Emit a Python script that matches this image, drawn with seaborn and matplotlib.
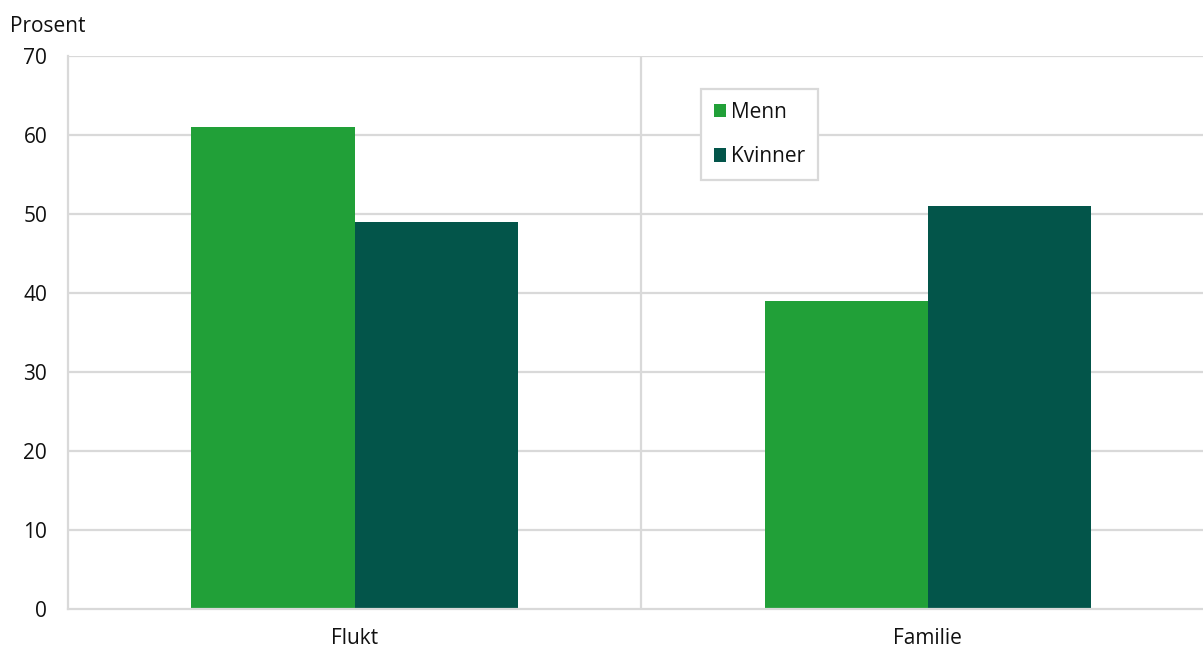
import pandas as pd
import matplotlib.pyplot as plt
import seaborn as sns

# dados
kategorier = ['Flukt', 'Familie']
menn = [61, 39]
kvinner = [49, 51]
yticks = [0, 10, 20, 30, 40, 50, 60, 70]

df = pd.DataFrame({
    'kategori': kategorier * 2,
    'verdi': menn + kvinner,
    'kjonn': ['Menn'] * len(menn) + ['Kvinner'] * len(kvinner),
})

sns.set_style('white')
plt.rcParams['font.family'] = ['Open Sans', 'DejaVu Sans']

W, H = 1203, 648
fig = plt.figure(figsize=(W / 100, H / 100), dpi=100)
ax = fig.add_axes([68 / W, 1 - 609 / H, (W - 68) / W, (609 - 56) / H])

grid_col = '#d9d9d9'
txt_col = '#111111'
sns.barplot(df, x='kategori', y='verdi', hue='kjonn',
            palette=['#21a038', '#03554a'], width=0.57,
            saturation=1, linewidth=0, ax=ax, zorder=3)

ax.set_ylim(0, 70)
ax.set_xlim(-0.5, (W - 355) / 573)
ax.set_yticks(yticks)
for y in yticks[1:]:
    ax.axhline(y, color=grid_col, lw=1.6, zorder=1)
ax.axvline(0.5, color=grid_col, lw=1.6, zorder=1)

for s in ['top', 'right']:
    ax.spines[s].set_visible(False)
for s in ['left', 'bottom']:
    ax.spines[s].set_color(grid_col)
    ax.spines[s].set_linewidth(1.6)
    ax.spines[s].set_zorder(4)

ax.tick_params(axis='y', length=0, pad=15, labelsize=15, colors=txt_col)
ax.tick_params(axis='x', length=0, pad=14, labelsize=15, colors=txt_col)
ax.set_xlabel('')
ax.set_ylabel('')

fig.text(10 / W, 1 - 27 / H, 'Prosent', fontsize=15, color=txt_col, va='center', ha='left')

leg = ax.legend(loc='upper left', bbox_to_anchor=(701 / W, 1 - 89 / H),
                bbox_transform=fig.transFigure, borderaxespad=0,
                fontsize=15, frameon=True, fancybox=False, edgecolor=grid_col,
                framealpha=1, handlelength=0.6, handleheight=0.6, handletextpad=0.25,
                labelspacing=1.15, borderpad=0.6, title=None)
leg.get_frame().set_linewidth(1.6)
for t in leg.get_texts():
    t.set_color(txt_col)

fig.savefig('out.png', dpi=100)
